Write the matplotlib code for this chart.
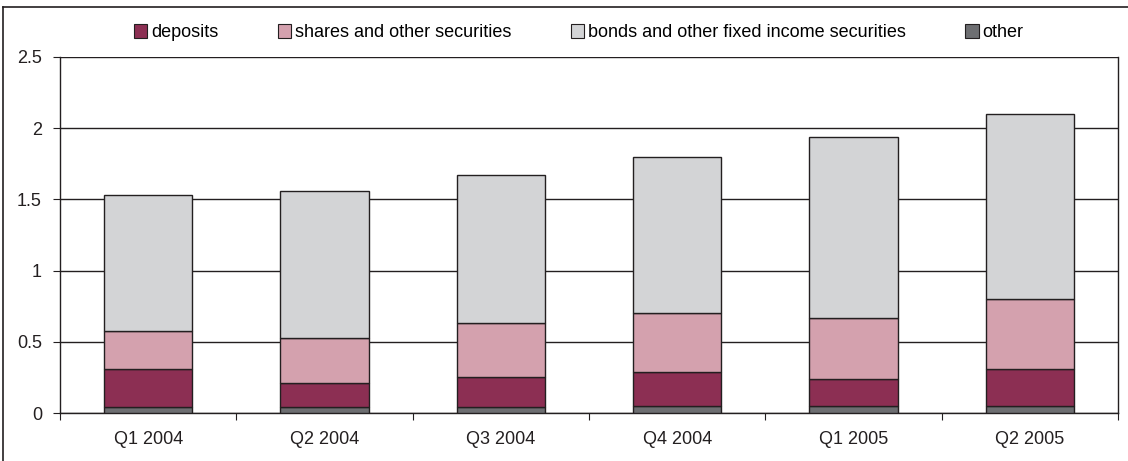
import numpy as np
import matplotlib.pyplot as plt
from matplotlib.lines import Line2D
from matplotlib.patches import Patch

quarters = ["Q1 2004", "Q2 2004", "Q3 2004", "Q4 2004", "Q1 2005", "Q2 2005"]
other = [0.04, 0.04, 0.04, 0.05, 0.05, 0.05]
deposits = [0.27, 0.17, 0.21, 0.24, 0.19, 0.26]
shares = [0.265, 0.32, 0.38, 0.41, 0.43, 0.49]
bonds = [0.955, 1.03, 1.04, 1.10, 1.27, 1.30]

c_dep = "#8c2f53"
c_sha = "#d4a1ae"
c_bon = "#d3d4d6"
c_oth = "#6d6e71"

plt.rcParams["font.family"] = ["Liberation Sans", "DejaVu Sans"]

fig = plt.figure(figsize=(11.28, 4.61), dpi=100)
ax = fig.add_axes([0.0532, 0.1041, 0.9379, 0.7723])

x = np.arange(len(quarters))
w = 0.5
kw = dict(width=w, edgecolor="#231f20", linewidth=1.0, zorder=3)
bottom = np.zeros(len(quarters))
for vals, col in [(other, c_oth), (deposits, c_dep), (shares, c_sha), (bonds, c_bon)]:
    ax.bar(x, vals, bottom=bottom, color=col, **kw)
    bottom += np.array(vals)

ax.set_xlim(-0.5, len(quarters) - 0.5)
ax.set_ylim(0, 2.5)
ax.set_yticks([0, 0.5, 1, 1.5, 2, 2.5])
ax.set_yticklabels(["0", "0.5", "1", "1.5", "2", "2.5"])
ax.yaxis.grid(True, color="#231f20", linewidth=1.0, zorder=0)
ax.set_axisbelow(True)

ax.set_xticks(np.arange(len(quarters) + 1) - 0.5)
ax.set_xticklabels([])
ax.set_xticks(x, minor=True)
ax.set_xticklabels(quarters, minor=True)
ax.tick_params(axis="x", which="minor", length=0, pad=13, labelsize=13, colors="#231f20")
ax.tick_params(axis="x", which="major", length=5, direction="out", color="#231f20")
ax.tick_params(axis="y", length=5, direction="out", labelsize=13, pad=8, color="#231f20", labelcolor="#231f20")
for s in ax.spines.values():
    s.set_color("#231f20")
    s.set_linewidth(1.0)
ax.spines["top"].set_visible(False)

handles = [Patch(facecolor=c, edgecolor="#231f20", linewidth=0.8)
           for c in (c_dep, c_sha, c_bon, c_oth)]
labels = ["deposits", "shares and other securities",
          "bonds and other fixed income securities", "other"]
fig.legend(handles, labels, ncol=4, loc="center", bbox_to_anchor=(0.513, 0.929),
           frameon=False, fontsize=13, handlelength=0.75, handleheight=0.75,
           handletextpad=0.2, columnspacing=3.3)

# outer frame of the original graphic (only top and left visible)
fig.add_artist(Line2D([0.003, 1.0], [0.985, 0.985], transform=fig.transFigure,
                      color="#231f20", linewidth=1.2))
fig.add_artist(Line2D([0.003, 0.003], [0.0, 0.985], transform=fig.transFigure,
                      color="#231f20", linewidth=1.2))

fig.savefig("out.png", dpi=100)
